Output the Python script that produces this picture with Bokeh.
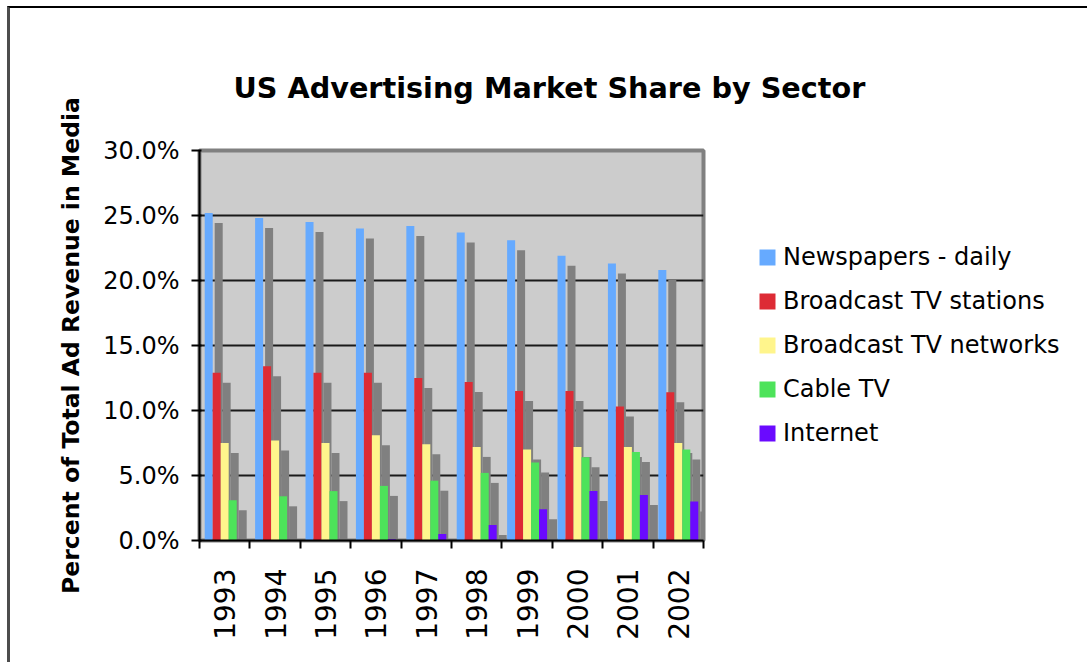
import math
from bokeh.plotting import figure
from bokeh.models import (Range1d, FixedTicker, LinearAxis, PrintfTickFormatter,
                          Legend, LegendItem, ColumnDataSource)
from bokeh.transform import dodge
from bokeh.embed import file_html
from bokeh.resources import INLINE

# ---------------- data ----------------
years = ["1993", "1994", "1995", "1996", "1997", "1998", "1999", "2000", "2001", "2002"]
newspapers_daily = [25.2, 24.8, 24.5, 24.0, 24.2, 23.7, 23.1, 21.9, 21.3, 20.8]
broadcast_tv_stations = [12.9, 13.4, 12.9, 12.9, 12.5, 12.2, 11.5, 11.5, 10.3, 11.4]
broadcast_tv_networks = [7.5, 7.7, 7.5, 8.1, 7.4, 7.2, 7.0, 7.2, 7.2, 7.5]
cable_tv = [3.1, 3.4, 3.8, 4.2, 4.6, 5.2, 6.0, 6.4, 6.8, 7.0]
internet = [0.0, 0.0, 0.0, 0.1, 0.5, 1.2, 2.4, 3.8, 3.5, 3.0]
series_names = ["Newspapers - daily", "Broadcast TV stations", "Broadcast TV networks",
                "Cable TV", "Internet"]
y_ticks = [0, 5, 10, 15, 20, 25, 30]
title_text = "US Advertising Market Share by Sector"
y_title = "Percent of Total Ad Revenue in Media"

# ---------------- styles ----------------
FONT = "DejaVu Sans"
colors = ["#66AAFF", "#DD2B35", "#FFF58C", "#4DE35A", "#6A0AFF"]
SHADOW = "#808080"
BAR_W = 0.159
offsets = [-0.317, -0.159, 0.0, 0.159, 0.317]
SH_DX = 0.198
SH_DY = 0.77

n = len(years)
centers = [i + 0.5 for i in range(n)]          # category slot centres on a 0..n axis
keys = ["s0", "s1", "s2", "s3", "s4"]
src = ColumnDataSource(dict(xc=centers, year=years, s0=newspapers_daily, s1=broadcast_tv_stations,
                            s2=broadcast_tv_networks, s3=cable_tv, s4=internet))

p = figure(x_range=Range1d(0, n), y_range=Range1d(0, 30),
           frame_width=504, frame_height=390, output_backend="svg", toolbar_location=None,
           x_axis_location=None,
           min_border_left=189, min_border_top=142, min_border_right=380, min_border_bottom=122,
           background_fill_color="#CCCCCC", border_fill_color="white",
           outline_line_color="#808080", outline_line_width=4)
p.styles = {"margin-left": "7px", "margin-top": "6px",
            "border-top": "2px solid #000000", "border-left": "3px solid #4d4d4d"}

# title
p.title.text = title_text
p.title.text_font = FONT
p.title.text_font_size = "28.7px"
p.title.text_font_style = "bold"
p.title.text_color = "black"
p.title.align = "left"
p.title.vertical_align = "top"
p.title.offset = 34
p.title.standoff = 88

renderers = []
for key, off, col in zip(keys, offsets, colors):
    p.vbar(x=dodge("xc", off + SH_DX), top=dodge(key, -SH_DY), bottom=-SH_DY,
           width=BAR_W, source=src, fill_color=SHADOW, line_color=None)
    r = p.vbar(x=dodge("xc", off), top=key, bottom=0,
               width=BAR_W, source=src, fill_color=col, line_color=None)
    renderers.append(r)

# x axis: year labels at slot centres, tick marks at slot boundaries
xaxis = LinearAxis(ticker=FixedTicker(ticks=centers, minor_ticks=list(range(n + 1))),
                   major_label_overrides={c: y for c, y in zip(centers, years)},
                   major_tick_line_color=None, major_tick_out=0, major_tick_in=0,
                   minor_tick_out=8, minor_tick_in=0, minor_tick_line_color="black",
                   minor_tick_line_width=2, axis_line_color="black", axis_line_width=2,
                   major_label_orientation=math.pi / 2, major_label_standoff=20,
                   major_label_text_font=FONT, major_label_text_font_size="28px",
                   major_label_text_color="black")
p.add_layout(xaxis, "below")
for g in p.xgrid:
    g.visible = False

ya = p.yaxis[0]
ya.ticker = FixedTicker(ticks=y_ticks)
ya.formatter = PrintfTickFormatter(format="%.1f%%")
ya.major_label_text_font = FONT
ya.major_label_text_font_size = "24px"
ya.major_label_text_color = "black"
ya.major_tick_out = 8
ya.major_tick_in = 2
ya.major_tick_line_width = 2
ya.major_tick_line_color = "black"
ya.minor_tick_line_color = None
ya.axis_line_color = "black"
ya.axis_line_width = 2
ya.major_label_standoff = 12
ya.axis_label = y_title
ya.axis_label_text_font = FONT
ya.axis_label_text_font_size = "23.5px"
ya.axis_label_text_font_style = "bold"
ya.axis_label_text_color = "black"
ya.axis_label_standoff = 15

for g in p.ygrid:
    g.ticker = FixedTicker(ticks=[5, 10, 15, 20, 25])
    g.grid_line_color = "#1a1a1a"
    g.grid_line_width = 2

legend = Legend(items=[LegendItem(label=nm, renderers=[r]) for nm, r in zip(series_names, renderers)],
                location=(54, 93), orientation="vertical",
                glyph_width=20, glyph_height=20, label_height=20, label_standoff=6,
                spacing=16, padding=0, margin=0,
                border_line_color=None, background_fill_alpha=0,
                label_text_font=FONT, label_text_font_size="24px", label_text_color="black")
p.add_layout(legend, "right")

open("out.html", "w").write(file_html(p, INLINE))
